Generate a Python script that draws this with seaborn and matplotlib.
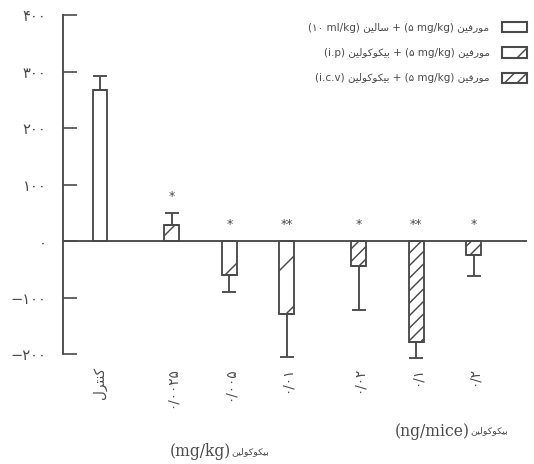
import pandas as pd
import seaborn as sns
import matplotlib.pyplot as plt
from matplotlib.patches import Patch

# values
groups = ["control", "i.p", "i.p", "i.p", "i.c.v", "i.c.v", "i.c.v"]
tick_labels = ["کنترل", "۰/۰۰۲۵", "۰/۰۰۵", "۰/۰۱", "۰/۰۲", "۰/۱", "۰/۲"]
means = [268, 29, -59, -129, -43, -179, -25]
sems = [25, 21, 30, 75, 78, 28, 37]
stars = ["", "*", "*", "**", "*", "**", "*"]
yticks = [-200, -100, 0, 100, 200, 300, 400]
ytick_labels = ["−۲۰۰", "−۱۰۰", "۰", "۱۰۰", "۲۰۰", "۳۰۰", "۴۰۰"]

# minimal Persian shaping (matplotlib has no RTL / joining support)
FORMS = {
    'ا': ('\uFE8D', '\uFE8E', None, None),
    'ب': ('\uFE8F', '\uFE90', '\uFE91', '\uFE92'),
    'ت': ('\uFE95', '\uFE96', '\uFE97', '\uFE98'),
    'ر': ('\uFEAD', '\uFEAE', None, None),
    'س': ('\uFEB1', '\uFEB2', '\uFEB3', '\uFEB4'),
    'ف': ('\uFED1', '\uFED2', '\uFED3', '\uFED4'),
    'ل': ('\uFEDD', '\uFEDE', '\uFEDF', '\uFEE0'),
    'م': ('\uFEE1', '\uFEE2', '\uFEE3', '\uFEE4'),
    'ن': ('\uFEE5', '\uFEE6', '\uFEE7', '\uFEE8'),
    'و': ('\uFEED', '\uFEEE', None, None),
    'ی': ('\uFBFC', '\uFBFD', '\uFBFE', '\uFBFF'),
    'ک': ('\uFB8E', '\uFB8F', '\uFB90', '\uFB91'),
}


def shape(word):
    # shape a single Persian word and return it in visual (left-to-right) order
    if not any(ch in FORMS for ch in word):
        return word
    out = []
    for i, ch in enumerate(word):
        f = FORMS[ch]
        prev = word[i - 1] if i > 0 else None
        nxt = word[i + 1] if i < len(word) - 1 else None
        jp = prev in FORMS and FORMS[prev][2] is not None
        jn = nxt in FORMS and f[2] is not None
        if jp and jn:
            out.append(f[3])
        elif jp:
            out.append(f[1])
        elif jn:
            out.append(f[2])
        else:
            out.append(f[0])
    return "".join(reversed(out))


drug = shape("بیکوکولین")
legend_labels = [
    f"(۱۰ ml/kg) {shape('سالین')} + (۵ mg/kg) {shape('مورفین')}",
    f"(i.p) {drug} + (۵ mg/kg) {shape('مورفین')}",
    f"(i.c.v) {drug} + (۵ mg/kg) {shape('مورفین')}",
]
tick_labels = [shape(t) for t in tick_labels]

# slot positions: a small gap between the three groups
pos = []
x = 0.0
for i, g in enumerate(groups):
    if i > 0:
        x += 1.0 + (0.25 if g != groups[i - 1] else 0.0)
    pos.append(x)

df = pd.DataFrame({"pos": pos, "mean": means, "group": groups})

sns.set_style("white")
plt.rcParams["font.family"] = ["DejaVu Sans"]
plt.rcParams["hatch.linewidth"] = 0.7
ink = "#4a4a4a"

fig = plt.figure(figsize=(534 / 150, 464 / 150), dpi=150)
ax = fig.add_axes([0.118, 0.2181, 0.869, 0.761])

sns.barplot(data=df, x="pos", y="mean", hue="group", native_scale=True,
            dodge=False, width=0.26, errorbar=None, legend=False,
            palette={"control": "white", "i.p": "white", "i.c.v": "white"},
            edgecolor=ink, linewidth=0.9, ax=ax)

hatch_of = {"control": "", "i.p": "/", "i.c.v": "////"}
for bar in ax.patches:
    cx = bar.get_x() + bar.get_width() / 2
    i = min(range(len(pos)), key=lambda k: abs(pos[k] - cx))
    bar.set_hatch(hatch_of[groups[i]])

lower = [s if m < 0 else 0 for m, s in zip(means, sems)]
upper = [s if m >= 0 else 0 for m, s in zip(means, sems)]
ax.errorbar(pos, means, yerr=[lower, upper], fmt="none", ecolor=ink,
            elinewidth=0.9, capsize=3.5, capthick=0.9)

for p, m, s, st in zip(pos, means, sems, stars):
    if st:
        top = m + s if m > 0 else 0
        ax.text(p, top + 30, st, ha="center", va="center", fontsize=6, color=ink)

ax.axhline(0, color=ink, lw=0.9)

ax.set_xlim(-0.643, 7.426)
ax.set_ylim(-215, 410)
sns.despine(ax=ax, top=True, right=True, bottom=True)
ax.spines["left"].set_bounds(-200, 400)
ax.spines["left"].set_color(ink)
ax.spines["left"].set_linewidth(0.9)

ax.set_yticks(yticks, ytick_labels)
ax.tick_params(axis="y", direction="in", length=6.5, width=0.8, color=ink,
               labelsize=7, labelcolor=ink, pad=8, left=True)
ax.set_xticks(pos, tick_labels, rotation=90)
ax.tick_params(axis="x", length=0, labelsize=6.5, labelcolor=ink, pad=2)
ax.set_xlabel("")
ax.set_ylabel("")

legend_hatch = {"control": "", "i.p": "//", "i.c.v": "////"}
handles = [Patch(facecolor="white", edgecolor=ink, hatch=legend_hatch[g])
           for g in ["control", "i.p", "i.c.v"]]
ax.legend(handles, legend_labels, markerfirst=False, frameon=False,
          loc="upper right", bbox_to_anchor=(527 / 534, 1 - 22 / 464),
          bbox_transform=fig.transFigure, borderaxespad=0, borderpad=0,
          fontsize=5, handlelength=2.4, handleheight=1.15,
          handletextpad=1.2, labelspacing=1.4, labelcolor=ink)

t1 = fig.text(395 / 534, 1 - 431 / 464, "(ng/mice)", family="DejaVu Serif",
              fontsize=7.5, color=ink, va="center", ha="left")
ax.annotate(drug, xy=(1, 0.5), xycoords=t1, va="center", ha="left",
            fontsize=4.5, color=ink)
t2 = fig.text(170 / 534, 1 - 452 / 464, "(mg/kg)", family="DejaVu Serif",
              fontsize=7.5, color=ink, va="center", ha="left")
ax.annotate(drug, xy=(1, 0.5), xycoords=t2, va="center", ha="left",
            fontsize=4.5, color=ink)

fig.savefig("out.png", dpi=150)
